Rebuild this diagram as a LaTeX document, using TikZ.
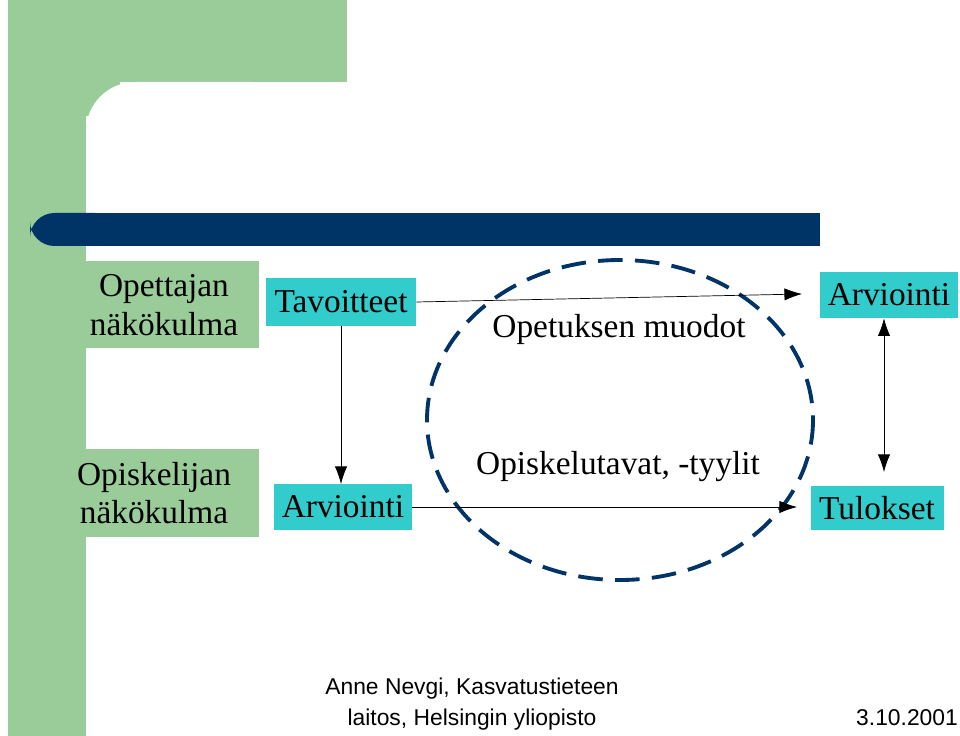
\documentclass[tikz,border=0pt]{standalone}
\usepackage{fontspec}
\setmainfont{Liberation Serif}
\setsansfont{Liberation Sans}
\usetikzlibrary{arrows.meta}
\definecolor{leaf}{HTML}{99CC99}
\definecolor{navy}{HTML}{003366}
\definecolor{teal}{HTML}{33CCCC}
\tikzset{view/.style={fill=leaf, align=center, font=\fontsize{19}{22}\selectfont},
  stage/.style={fill=teal, font=\fontsize{19}{22}\selectfont},
  arrow/.style={thin, -{Latex[length=10pt,width=7pt]}}}
\begin{document}
\begin{tikzpicture}[x=0.02cm,y=-0.02cm]
\useasboundingbox (0,0) rectangle (960,736);
% frame
\fill[leaf] (8,0) rectangle (347,82);
\fill[leaf] (8,0) rectangle (86,736);
\fill[leaf] (86,82) rectangle (120,116);
\fill[white, rounded corners=28pt] (86,82) rectangle (300,300);
\fill[navy, rounded corners=14pt] (30,213) rectangle (120,246);
\fill[navy] (60,213) rectangle (820,246);
% views
\node[view, minimum width=189*0.02cm, minimum height=87*0.02cm] (teacher) at (164,305) {Opettajan\\näkökulma};
\node[view, minimum width=209*0.02cm, minimum height=88*0.02cm] (student) at (154,493) {Opiskelijan\\näkökulma};
% stages
\node[stage, minimum width=150*0.02cm, minimum height=48*0.02cm] (goals) at (341,302) {Tavoitteet};
\node[stage, minimum width=138*0.02cm, minimum height=46*0.02cm] (evaltop) at (889,295) {Arviointi};
\node[stage, minimum width=138*0.02cm, minimum height=46*0.02cm] (evalbot) at (343,507) {Arviointi};
\node[stage, minimum width=133*0.02cm, minimum height=44*0.02cm] (results) at (877,508) {Tulokset};
% ellipse
\draw[navy, line width=2.2pt, dash pattern=on 14pt off 7pt] (620,420) ellipse [x radius=193, y radius=160];
\node[font=\fontsize{19}{22}\selectfont] (forms) at (619,329) {Opetuksen muodot};
\node[font=\fontsize{19}{22}\selectfont] (styles) at (618,467) {Opiskelutavat, -tyylit};
% arrows
\draw[arrow] (goals.east) -- (802,294) coordinate (g1);
\draw[arrow] (goals.south) -- (goals.south |- 484,484);
\draw[arrow] (evalbot.east) -- (797,507);
\draw[thin, {Latex[length=10pt,width=7pt]}-{Latex[length=10pt,width=7pt]}] (evaltop.south -| 884,0) -- (884,472);
% footer
\node[font=\sffamily\fontsize{13}{18}\selectfont, align=center] (author) at (472,704) {Anne Nevgi, Kasvatustieteen\\laitos, Helsingin yliopisto};
\node[font=\sffamily\fontsize{13}{15}\selectfont] (date) at (907,718) {3.10.2001};
\end{tikzpicture}
\end{document}
